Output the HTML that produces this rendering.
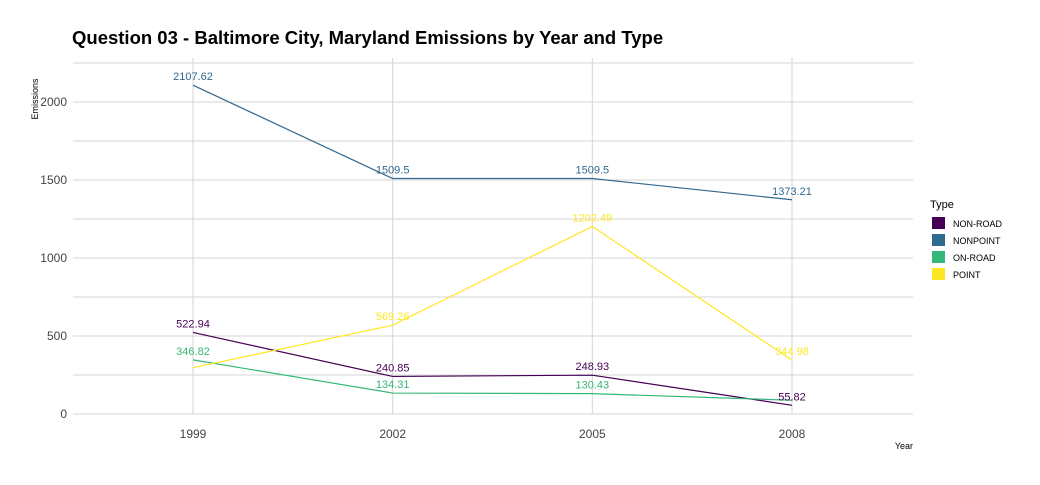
<!DOCTYPE html>
<html><head><meta charset="utf-8"><style>
body{margin:0;background:#fff;font-family:"Liberation Sans",sans-serif}
</style></head><body>
<svg id="c" width="1040" height="480" xmlns="http://www.w3.org/2000/svg" font-family="Liberation Sans, sans-serif">
<text x="72" y="44" font-size="18.5" font-weight="bold" fill="#000">Question 03 - Baltimore City, Maryland Emissions by Year and Type</text>
<g id="grid"></g><g id="lines"></g><g id="labels"></g><g id="axes"></g><g id="legend"></g>
</svg>
<script>
const years=[1999,2002,2005,2008];
const types=["NON-ROAD","NONPOINT","ON-ROAD","POINT"];
const colors=["#440154","#31688e","#35b779","#fde725"];
const nonRoad=[522.94,240.85,248.93,55.82];
const nonPoint=[2107.62,1509.5,1509.5,1373.21];
const onRoad=[346.82,134.31,130.43,88.28];
const point=[296.8,569.26,1202.49,344.98];
const yTicks=[0,500,1000,1500,2000];
const yMinor=[250,750,1250,1750,2250];
const series=[nonRoad,nonPoint,onRoad,point];
const hiddenLabels=[[],[],[3],[0]];
const NS="http://www.w3.org/2000/svg";
const x=v=>193+(v-1999)*(792-193)/9;
const y=v=>414-v*0.156;
function mk(p,tag,attrs){const e=document.createElementNS(NS,tag);for(const k in attrs)e.setAttribute(k,attrs[k]);document.getElementById(p).appendChild(e);return e;}
yMinor.concat(yTicks).forEach(t=>{const l=mk('grid','line',{x1:73,x2:913,y1:y(t),y2:y(t),stroke:'#d6d6d6','stroke-width':1});

});
years.forEach(yr=>{const l=mk('grid','line',{x1:x(yr),x2:x(yr),y1:58,y2:414,stroke:'#d6d6d6','stroke-width':1});


const t=mk('axes','text',{x:x(yr),y:438,'font-size':12,fill:'#444','text-anchor':'middle'});t.textContent=yr;

});
yTicks.forEach(v=>{const t=mk('axes','text',{x:67,y:y(v)+4,'font-size':12,fill:'#444','text-anchor':'end'});t.textContent=v;

});
let yt=mk('axes','text',{x:38,y:99,'font-size':9,fill:'#000','text-anchor':'middle',transform:'rotate(-90 38 99)'});yt.textContent='Emissions';


let xt=mk('axes','text',{x:913,y:449,'font-size':9,fill:'#000','text-anchor':'end'});xt.textContent='Year';


series.forEach((s,i)=>{
const pl=mk('lines','polyline',{points:s.map((v,j)=>x(years[j])+','+y(v)).join(' '),fill:'none',stroke:colors[i],'stroke-width':1.2});


s.forEach((v,j)=>{if(hiddenLabels[i].includes(j))return;
const t=mk('labels','text',{x:x(years[j]),y:y(v)-5,'font-size':11,fill:colors[i],'text-anchor':'middle'});t.textContent=v;

});
});
let lt=mk('legend','text',{x:930,y:208,'font-size':11,fill:'#000'});lt.textContent='Type';


types.forEach((t,i)=>{const yy=217+i*17;
const r=mk('legend','rect',{x:932,y:yy,width:13,height:12,fill:colors[i]});


const tx=mk('legend','text',{x:953,y:yy+10,'font-size':9,fill:'#000'});tx.textContent=t;

});
</script>
</body></html>
